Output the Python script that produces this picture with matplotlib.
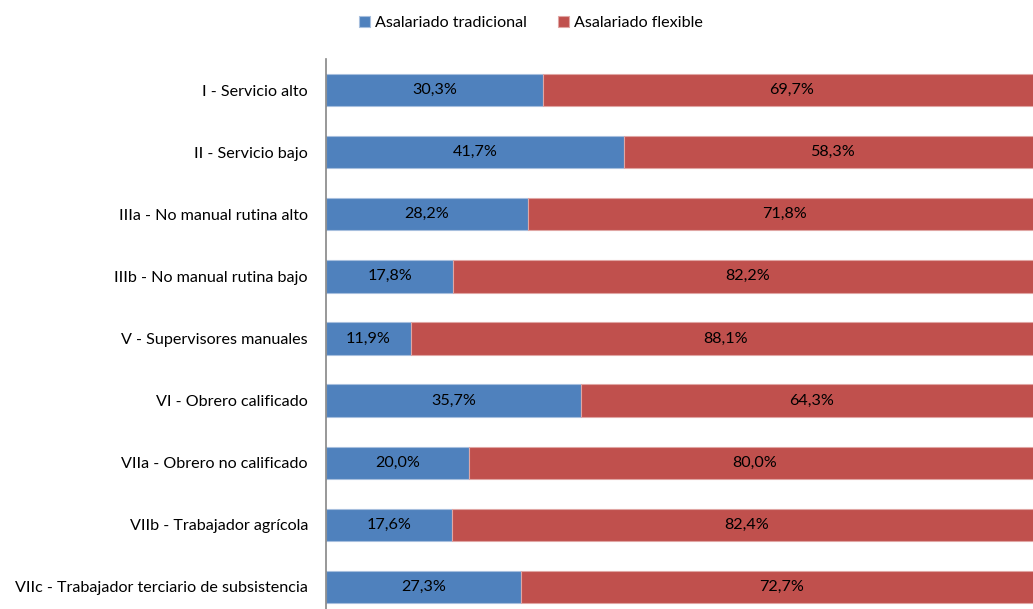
import matplotlib.pyplot as plt
import numpy as np

plt.rcParams['font.family'] = ['Lato', 'DejaVu Sans']

categories = [
    'I - Servicio alto',
    'II - Servicio bajo',
    'IIIa - No manual rutina alto',
    'IIIb - No manual rutina bajo',
    'V - Supervisores manuales',
    'VI - Obrero calificado',
    'VIIa - Obrero no calificado',
    'VIIb - Trabajador agrícola',
    'VIIc - Trabajador terciario de subsistencia',
]
tradicional = [30.3, 41.7, 28.2, 17.8, 11.9, 35.7, 20.0, 17.6, 27.3]
flexible = [69.7, 58.3, 71.8, 82.2, 88.1, 64.3, 80.0, 82.4, 72.7]
series_names = ['Asalariado tradicional', 'Asalariado flexible']

FS = 11.6


def fmt(v):
    return ('%.1f%%' % v).replace('.', ',')


fig = plt.figure(figsize=(10.33, 6.09), dpi=100)
# axes spans past the right/bottom edges like the cropped original
ax = fig.add_axes([326 / 1033, (609 - 618) / 609, 715 / 1033, 559 / 609])

y = np.arange(len(categories))
blue = '#4F81BD'
red = '#C0504D'
h = 0.52
ax.barh(y, tradicional, height=h, color=blue, edgecolor='#A7BFDE', linewidth=0.8,
        label=series_names[0])
ax.barh(y, flexible, left=tradicional, height=h, color=red, edgecolor='#E0A6A4',
        linewidth=0.8, label=series_names[1])

for i in range(len(categories)):
    ax.text(tradicional[i] / 2, y[i], fmt(tradicional[i]), ha='center', va='center',
            fontsize=FS, color='black')
    ax.text(tradicional[i] + flexible[i] / 2, y[i], fmt(flexible[i]), ha='center',
            va='center', fontsize=FS, color='black')

ax.set_xlim(0, 100)
ax.set_ylim(len(categories) - 0.5, -0.5)
ax.set_yticks(y)
ax.set_yticklabels(categories, fontsize=FS, color='black')
ax.tick_params(axis='y', length=0, pad=13)
ax.set_xticks([])
for s in ['top', 'right', 'bottom']:
    ax.spines[s].set_visible(False)
ax.spines['left'].set_color('#868686')
ax.spines['left'].set_linewidth(1.2)

fig.legend(loc='center', bbox_to_anchor=(0.514, 1 - 23 / 609), ncol=2, frameon=False,
           fontsize=FS, handlelength=0.7, handleheight=0.7, handletextpad=0.3,
           columnspacing=1.95)

fig.savefig('out.png', dpi=100)
